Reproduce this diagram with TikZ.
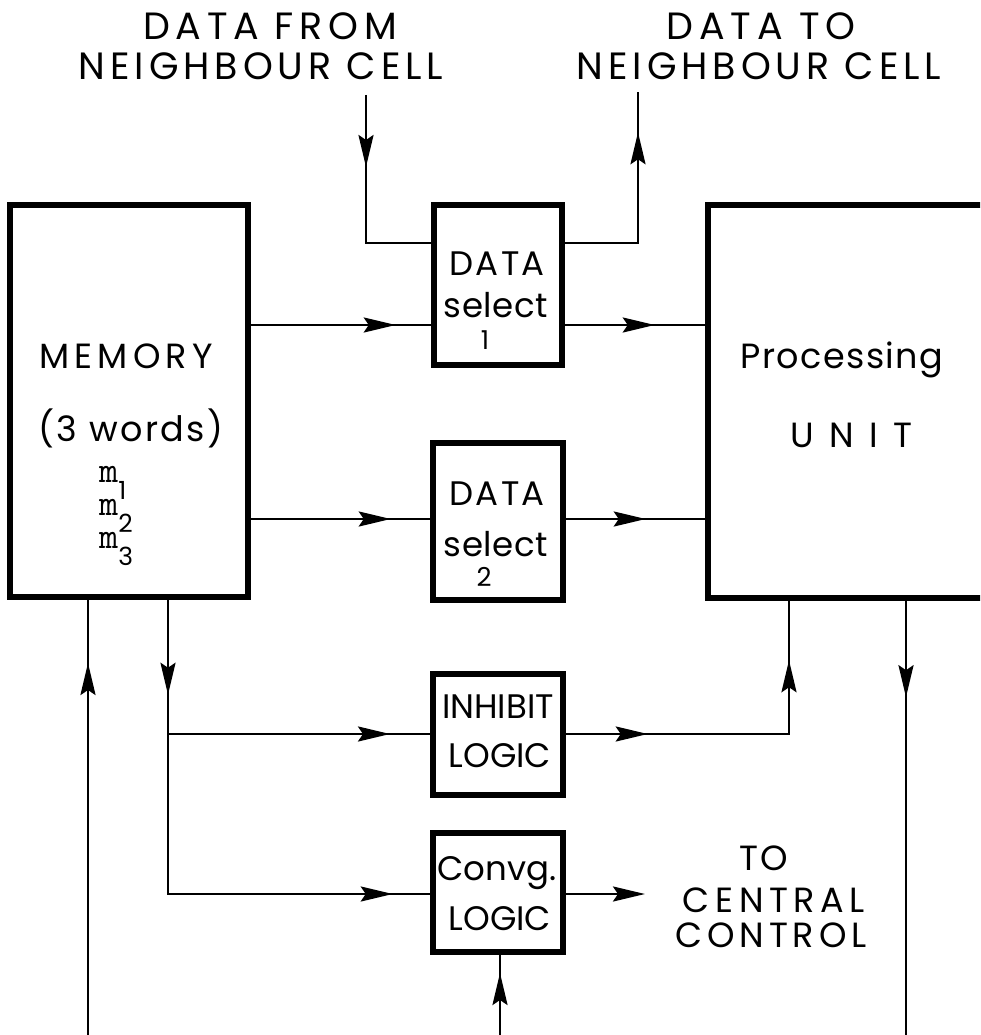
\documentclass[tikz,border=0pt]{standalone}
\usepackage{fontspec}
\setmainfont{Poppins}
\usetikzlibrary{arrows.meta,decorations.markings}
\tikzset{
  >={Stealth[length=32pt,width=15pt,inset=5pt]},
  blk/.style={draw, line width=5.5pt, inner sep=0pt, minimum width=130pt},
  conn/.style={line width=2.6pt},
  tipat/.style={postaction={decorate, decoration={markings, mark=at position #1 with {\arrow{>}}}}},
  ttxt/.style={inner sep=0pt, anchor=base, font=\fontsize{38}{40}\selectfont\addfontfeature{LetterSpace=#1}},
  txt/.style={inner sep=0pt, anchor=base, font=\fontsize{35}{40}\selectfont\addfontfeature{LetterSpace=#1}},
  txt/.default=0,
  btxt/.style={inner sep=0pt, anchor=base, font=\fontsize{34}{40}\selectfont\addfontfeature{LetterSpace=#1}},
  btxt/.default=0,
  dtxt/.style={inner sep=0pt, anchor=base, font=\fontsize{26}{28}\selectfont},
  mtxt/.style={inner sep=0pt, anchor=base west},
}
\newcommand{\mword}[1]{{\ttfamily\fontsize{37}{37}\selectfont m}\smash{\raisebox{-17pt}{\fontsize{25}{25}\selectfont #1}}}
\begin{document}
\begin{tikzpicture}[x=1pt,y=-1pt]
\fill[white] (0,0) rectangle (980,1035);
\clip (0,0) rectangle (980,1035);
% boxes
\node[blk, minimum width=238pt, minimum height=392pt] (mem) at (129,401) {};
\node[inner sep=0pt, minimum width=266pt, minimum height=393pt] (pu) at (841,401.5) {};
\draw[line width=5.5pt] ([xshift=12pt]pu.north east) -| (pu.south west) -- ([xshift=12pt]pu.south east);
\node[blk, minimum width=128pt, minimum height=160pt] (ds1) at (498,285) {};
\node[blk, minimum height=157pt] (ds2) at (498,521.5) {};
\node[blk, minimum height=121pt] (inh) at (498,734.5) {};
\node[blk, minimum height=119pt] (conv) at (498,892.5) {};
% texts
\node[ttxt=15] (t1a) at (270,40) {DATA FROM};
\node[ttxt=13] (t1b) at (261,80) {NEIGHBOUR CELL};
\node[ttxt=16] (t2a) at (761,40) {DATA TO};
\node[ttxt=13] (t2b) at (759,80) {NEIGHBOUR CELL};
\node[txt=15] (memA) at (126,368) {MEMORY};
\node[txt=7] (memB) at (131,441) {(3 words)};
\node[mtxt] (ms) at (99,482) {\vtop{\baselineskip=33pt\lineskip=0pt\lineskiplimit=-100pt
  \hbox{\mword{1}}\hbox{\mword{2}}\hbox{\mword{3}}}};
\node[txt=4] (puA) at (842,368) {Processing};
\node[txt=44] (puB) at (851,447) {UNIT};
\node[btxt=7] (d1a) at (497,275) {DATA};
\node[btxt=2] (d1b) at (496,317) {select};
\node[dtxt] (d1c) at (485,349) {1};
\node[btxt=7] (d2a) at (497,505) {DATA};
\node[btxt=2] (d2b) at (496,556) {select};
\node[dtxt] (d2c) at (484,586) {2};
\node[btxt] (iA) at (498,718) {INHIBIT};
\node[btxt] (iB) at (500,767) {LOGIC};
\node[btxt] (cA) at (497,880) {Convg.};
\node[btxt] (cB) at (500,930) {LOGIC};
\node[txt=6] (ccA) at (764,870) {TO};
\node[txt=16] (ccB) at (774,912) {CENTRAL};
\node[txt=14] (ccC) at (771,947) {CONTROL};
% coordinates
\coordinate (inTop) at (366,95);
\coordinate (outTop) at (638,92);
\coordinate (ya) at (0,325);
\coordinate (yb) at (0,519);
\coordinate (yc) at (0,243);
\coordinate (memL) at (88,1035);
\coordinate (memR) at (168,0);
\coordinate (br) at (168,734);
\coordinate (cy) at (0,894);
\coordinate (puL) at (789,0);
\coordinate (puD) at (906,1035);
\coordinate (cvB) at (500,1035);
\coordinate (cc) at (645,894);
% connectors
\draw[conn, tipat=72pt] (inTop) |- (ds1.west |- yc);
\draw[conn, tipat=184pt] (ds1.east |- yc) -| (outTop);
\draw[conn, tipat=145pt] (mem.east |- ya) -- (ds1.west |- ya);
\draw[conn, tipat=90pt] (ds1.east |- ya) -- (pu.west |- ya);
\draw[conn, tipat=140pt] (mem.east |- yb) -- (ds2.west |- yb);
\draw[conn, tipat=80pt] (ds2.east |- yb) -- (pu.west |- yb);
\draw[conn, tipat=372pt] (memL) -- (mem.south -| memL);
\draw[conn, tipat=95pt, tipat=519pt] (mem.south -| memR) |- (conv.west |- cy);
\draw[conn, tipat=222pt] (br) -- (inh.west |- br);
\draw[conn, tipat=82pt, tipat=297pt] (inh.east |- br) -| (pu.south -| puL);
\draw[conn, tipat=99pt] (pu.south -| puD) -- (puD);
\draw[conn, tipat=62pt] (cvB) -- (conv.south -| cvB);
\draw[conn, ->] (conv.east |- cc) -- (cc);
\end{tikzpicture}
\end{document}
